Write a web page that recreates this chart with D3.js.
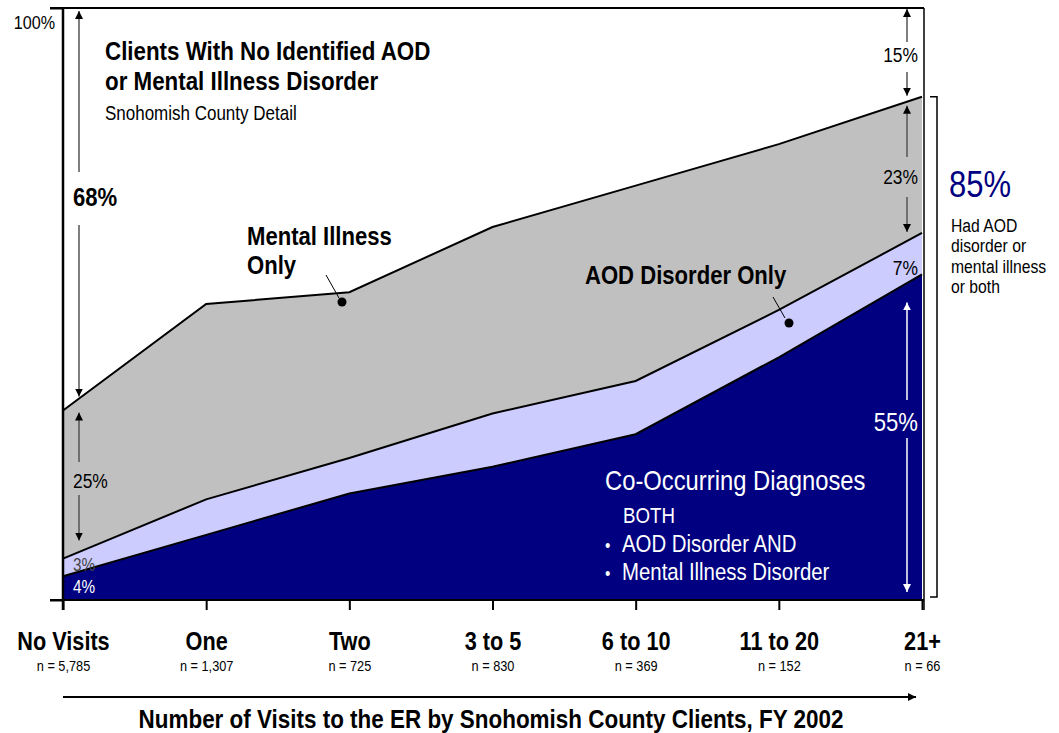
<!DOCTYPE html>
<html><head><meta charset="utf-8">
<script src="https://cdn.jsdelivr.net/npm/d3@7"></script>
<style>
body{margin:0;background:#fff;}
svg text{font-family:'Liberation Sans',Arial,sans-serif;}
</style></head><body>
<svg id="c" width="1059" height="733"></svg>
<script>
const categories = ["No Visits","One","Two","3 to 5","6 to 10","11 to 20","21+"];
const nLabels = ["n = 5,785","n = 1,307","n = 725","n = 830","n = 369","n = 152","n = 66"];
const both = [4, 11, 18, 22.5, 28, 41, 55];
const aodOnly = [3, 6, 6, 9, 9, 8, 7];
const miOnly = [25, 33, 28, 31.5, 33, 28, 23];
const yTicks = [0, 100];

const SX = 0.85; // condensed look
const svg = d3.select("#c");
const x = d3.scalePoint().domain(categories).range([63, 922]);
const y = d3.scaleLinear().domain([0, 100]).range([600, 8]);

const rows = categories.map((c, i) => ({cat: c, both: both[i], aod: aodOnly[i], mi: miOnly[i]}));
const keys = ["both", "aod", "mi"];
const colors = {both: "#000080", aod: "#ccccff", mi: "#c0c0c0"};
const series = d3.stack().keys(keys)(rows);

const area = d3.area().x(d => x(d.data.cat)).y0(d => y(d[0])).y1(d => y(d[1]));
const line = d3.line().x(d => x(d.data.cat)).y(d => y(d[1]));

svg.selectAll("path.band").data(series).join("path")
  .attr("class", "band").attr("d", area).attr("fill", d => colors[d.key]);
svg.selectAll("path.edge").data(series).join("path")
  .attr("class", "edge").attr("d", line).attr("fill", "none")
  .attr("stroke", "#000").attr("stroke-width", 2);

const defs = svg.append("defs");
function marker(id, color) {
  defs.append("marker").attr("id", id).attr("viewBox", "0 0 10 10")
    .attr("refX", 10).attr("refY", 5).attr("markerWidth", 8).attr("markerHeight", 9)
    .attr("markerUnits", "userSpaceOnUse").attr("orient", "auto")
    .append("path").attr("d", "M0,0L10,5L0,10Z").attr("fill", color);
}
marker("ab", "#000"); marker("aw", "#fff");

function txt(px, py, str, size, o = {}) {
  const g = svg.append("g").attr("transform", `translate(${px},${py}) scale(${SX},1)`);
  return g.append("text").attr("x", 0).attr("y", 0)
    .attr("text-anchor", o.anchor || "start")
    .attr("font-size", size)
    .attr("font-weight", o.bold ? "bold" : "normal")
    .attr("fill", o.fill || "#000").text(str);
}

// frame
svg.append("line").attr("x1", 50).attr("x2", 924).attr("y1", y(100)).attr("y2", y(100)).attr("stroke", "#000").attr("stroke-width", 2);
svg.append("line").attr("x1", 924).attr("x2", 924).attr("y1", y(100)).attr("y2", 610).attr("stroke", "#000").attr("stroke-width", 1.5);

// y axis
const yAxis = d3.axisLeft(y).tickValues(yTicks).tickSize(13).tickFormat("");
const ya = svg.append("g").attr("transform", "translate(63,0)").call(yAxis);
ya.select(".domain").remove();
ya.selectAll(".tick line").attr("stroke", "#000").attr("stroke-width", 2);
svg.append("line").attr("x1", 63).attr("x2", 63).attr("y1", y(100)).attr("y2", 610).attr("stroke", "#000").attr("stroke-width", 2.5);
txt(55, y(100) + 21, yTicks[1] + "%", 19, {anchor: "end"});

// x axis
const xAxis = d3.axisBottom(x).tickSize(10).tickPadding(22);
const xa = svg.append("g").attr("transform", "translate(0,600)").call(xAxis);
xa.select(".domain").attr("d", "M50,0H924").attr("stroke", "#000").attr("stroke-width", 2);
xa.selectAll(".tick line").attr("stroke", "#000").attr("stroke-width", 2);
xa.selectAll(".tick text").attr("font-size", 25.5).attr("font-weight", "bold").attr("fill", "#000")
  .attr("font-family", "'Liberation Sans',Arial,sans-serif")
  .attr("dy", 0).attr("y", 50).attr("transform", `scale(${SX},1)`);
xa.selectAll(".tick").append("text").attr("transform", `scale(${SX},1)`)
  .attr("y", 71).attr("text-anchor", "middle").attr("font-size", 15).attr("fill", "#000")
  .text((d, i) => nLabels[i]);

// x axis arrow + title
svg.append("line").attr("x1", 63).attr("x2", 916).attr("y1", 697).attr("y2", 697)
  .attr("stroke", "#000").attr("stroke-width", 2).attr("marker-end", "url(#ab)");
txt(491, 728, "Number of Visits to the ER by Snohomish County Clients, FY 2002", 26.4, {anchor: "middle", bold: true});

// title block
txt(105, 60, "Clients With No Identified AOD", 26.3, {bold: true});
txt(105, 90, "or Mental Illness Disorder", 26.3, {bold: true});
txt(105, 120, "Snohomish County Detail", 20);

function varrow(xp, y1, y2, color) {
  svg.append("line").attr("x1", xp).attr("x2", xp).attr("y1", y1).attr("y2", y2)
    .attr("stroke", color === "#fff" ? "#fff" : "#555").attr("stroke-width", 1.5)
    .attr("marker-end", color === "#fff" ? "url(#aw)" : "url(#ab)");
}
const x0 = x(categories[0]);
const top0 = y(both[0] + aodOnly[0] + miOnly[0]);
varrow(x0 + 16, 172, y(100) + 3);
txt(x0 + 10, 206, Math.round(100 - both[0] - aodOnly[0] - miOnly[0]) + "%", 26, {bold: true});
varrow(x0 + 16, 225, top0 - 14);
varrow(x0 + 16, 462, top0 + 2);
txt(x0 + 10, 488, miOnly[0] + "%", 20.5);
varrow(x0 + 16, 495, y(both[0] + aodOnly[0]) - 18);
txt(x0 + 10, 571, aodOnly[0] + "%", 18, {fill: "#444"});
txt(x0 + 10, 593, both[0] + "%", 18, {fill: "#fff"});

const xr = x(categories[6]) - 15;
const t6 = both[6] + aodOnly[6] + miOnly[6];
varrow(xr, 42, y(100) + 1);
txt(918, 62, Math.round(100 - t6) + "%", 20.5, {anchor: "end"});
varrow(xr, 72, y(t6) - 1);
varrow(xr, 157, y(t6) + 9);
txt(918, 184, miOnly[6] + "%", 20.5, {anchor: "end"});
varrow(xr, 197, y(both[6] + aodOnly[6]) - 1);
txt(918, 275, aodOnly[6] + "%", 20.5, {anchor: "end"});
varrow(xr, 400, y(both[6]) + 28, "#fff");
txt(918, 431, both[6] + "%", 26, {anchor: "end", fill: "#fff"});
varrow(xr, 438, y(0) - 8, "#fff");

// bracket
svg.append("path").attr("d", `M930,${y(t6)}H937V${y(0) - 3}H930`).attr("fill", "none").attr("stroke", "#000").attr("stroke-width", 1.5);
txt(949, 197, Math.round(t6) + "%", 36.5, {fill: "#000080"});
["Had AOD", "disorder or", "mental illness", "or both"].forEach((t, i) => {
  txt(951, 232 + i * 20.3, t, 18.5);
});

// series labels
txt(247, 245, "Mental Illness", 26, {bold: true});
txt(247, 274, "Only", 26, {bold: true});
svg.append("line").attr("x1", 326).attr("y1", 275).attr("x2", 339).attr("y2", 298).attr("stroke", "#000").attr("stroke-width", 1);
svg.append("circle").attr("cx", 342).attr("cy", 302).attr("r", 4.5).attr("fill", "#000");

txt(585, 284, "AOD Disorder Only", 26, {bold: true});
svg.append("line").attr("x1", 773).attr("y1", 297).attr("x2", 785).attr("y2", 318).attr("stroke", "#000").attr("stroke-width", 1);
svg.append("circle").attr("cx", 789).attr("cy", 323).attr("r", 4.5).attr("fill", "#000");

txt(605, 490, "Co-Occurring Diagnoses", 28, {fill: "#fff"});
txt(623, 523, "BOTH", 22, {fill: "#fff"});
txt(605, 552, "\u2022", 18, {fill: "#fff"});
txt(622, 552, "AOD Disorder AND", 24, {fill: "#fff"});
txt(605, 580, "\u2022", 18, {fill: "#fff"});
txt(622, 580, "Mental Illness Disorder", 24, {fill: "#fff"});
</script></body></html>
